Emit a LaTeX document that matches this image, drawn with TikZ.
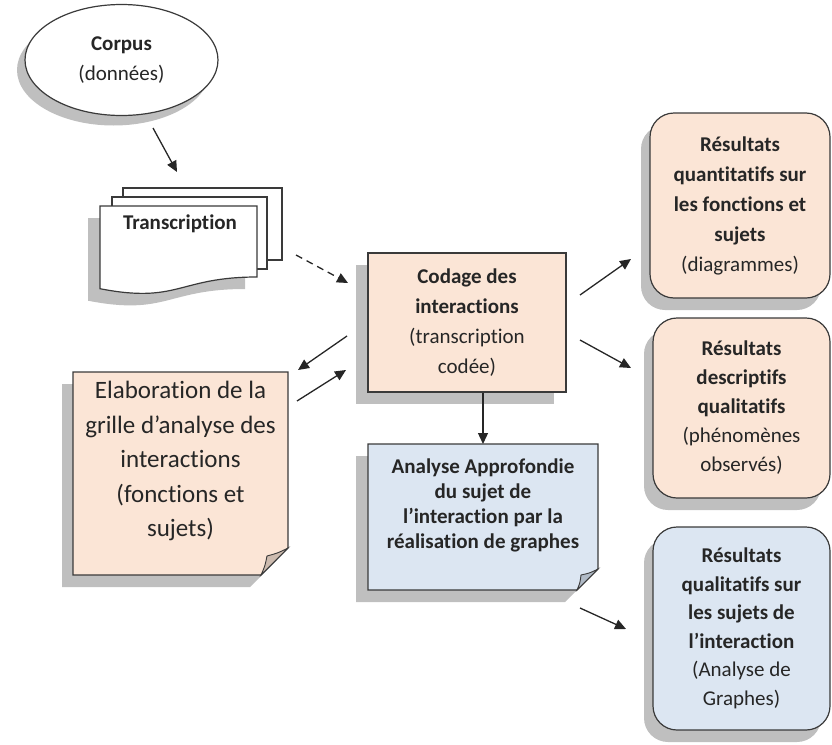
\documentclass[tikz,border=0pt]{standalone}
\usepackage{fontspec}
\setmainfont{Carlito}[Ligatures=NoCommon]
\usetikzlibrary{shapes.geometric,shadows,arrows.meta,calc}
\definecolor{peachc}{HTML}{FBE5D6}
\definecolor{bluec}{HTML}{DCE6F2}
\definecolor{shadc}{HTML}{BFBFBF}
\definecolor{linec}{HTML}{3A3A3A}
\definecolor{txtc}{HTML}{262626}
\definecolor{peachfold}{HTML}{CDBBAF}
\definecolor{bluefold}{HTML}{B0BAC6}
\begin{document}
\begin{tikzpicture}[x=1pt,y=-1pt,
  txt/.style={text=txtc, align=center, inner sep=0pt},
  f21/.style={font=\fontsize{21}{30}\selectfont},
  outline/.style={draw=linec, line width=1.2pt},
  shad/.style={drop shadow={shadow xshift=#1, shadow yshift=-12pt, fill=shadc, opacity=1}},
  shad/.default=-12pt,
  rbox/.style={txt, f21, outline, rounded corners=24pt, shad=-9pt},
  arr/.style={-{Triangle[length=11pt,width=10pt]}, line width=1.3pt, draw=black!85},
  darr/.style={arr, dash pattern=on 7pt off 5pt}]
\useasboundingbox (0,0) rectangle (832,744);

% Corpus ellipse
\node[ellipse, txt, f21, outline, fill=white, minimum width=193pt, minimum height=111pt,
      drop shadow={shadow xshift=-8pt, shadow yshift=-10pt, fill=shadc, opacity=1}]
      (corpus) at (121.5,60) {\textbf{Corpus}\\(données)};

% Transcription multidocument
\fill[shadc] (88,218) -- (245,218) -- (245,289) .. controls (166.5,289) and (166.5,316) .. (88,300.7) -- cycle;
\draw[outline, fill=white] (123,188) rectangle (282,260);
\draw[outline, fill=white] (112,197) rectangle (267,269);
\draw[outline, fill=white] (100,206) -- (257,206) -- (257,277) .. controls (178.5,277) and (178.5,304) .. (100,288.7) -- cycle;
\node[txt, f21] (transc) at (180,224) {\textbf{Transcription}};

% Codage
\node[txt, f21, outline, fill=peachc, shad, minimum width=198pt, minimum height=139pt]
      (codage) at (467,322.5) {\textbf{Codage des}\\\textbf{interactions}\\(transcription\\codée)};

% Elaboration (folded corner)
\fill[shadc] (62,384) -- (277,384) -- (277,560) -- (250,587) -- (62,587) -- cycle;
\draw[outline, fill=peachc] (73,372) -- (288,372) -- (288,548) -- (261,575) -- (73,575) -- cycle;
\draw[outline, fill=peachfold, line width=0.9pt] (288,548) .. controls (278,553) .. (267,556) .. controls (265,566) .. (261,575) -- cycle;
\node[txt, font=\fontsize{25}{34.5}\selectfont] (elab) at (180.5,461)
      {Elaboration de la\\grille d’analyse des\\interactions\\(fonctions et\\sujets)};

% Analyse (folded corner)
\fill[shadc] (356,456) -- (586,456) -- (586,581) -- (565,602) -- (356,602) -- cycle;
\draw[outline, fill=bluec] (368,444) -- (598,444) -- (598,569) -- (577,590) -- (368,590) -- cycle;
\draw[outline, fill=bluefold, line width=0.9pt] (598,569) .. controls (590,573) .. (581,575) .. controls (580,583) .. (577,590) -- cycle;
\node[txt, font=\fontsize{21}{25}\selectfont] (analyse) at (483,505)
      {\textbf{Analyse Approfondie}\\\textbf{du sujet de}\\\textbf{l’interaction par la}\\\textbf{réalisation de graphes}};
\coordinate (analyseTop) at (483,444);

% Results
\node[rbox, fill=peachc, minimum width=180pt, minimum height=185pt] (res1) at (740,205.5)
      {\textbf{Résultats}\\\textbf{quantitatifs sur}\\\textbf{les fonctions et}\\\textbf{sujets}\\(diagrammes)};
\node[rbox, fill=peachc, font=\fontsize{21}{29}\selectfont, minimum width=177pt, minimum height=180pt] (res2) at (741.5,408)
      {\textbf{Résultats}\\\textbf{descriptifs}\\\textbf{qualitatifs}\\(phénomènes\\observés)};
\node[rbox, fill=bluec, font=\fontsize{21}{28.5}\selectfont, minimum width=177pt, minimum height=203pt] (res3) at (741.5,628.5)
      {\textbf{Résultats}\\\textbf{qualitatifs sur}\\\textbf{les sujets de}\\\textbf{l’interaction}\\(Analyse de\\Graphes)};

% Arrow end points
\coordinate (a1s) at (153,128);  \coordinate (a1e) at (177,172);
\coordinate (a2s) at (296,255);  \coordinate (a2e) at (348,283);
\coordinate (a3s) at (347,336);  \coordinate (a3e) at (298,370);
\coordinate (a4s) at (297,401);  \coordinate (a4e) at (346,370);
\coordinate (a5s) at (580,295);  \coordinate (a5e) at (631,259);
\coordinate (a6s) at (580,340);  \coordinate (a6e) at (631,368);
\coordinate (a7s) at (580,608);  \coordinate (a7e) at (626,629);

\draw[arr] (a1s) -- (a1e);
\draw[darr] (a2s) -- (a2e);
\draw[arr] (a3s) -- (a3e);
\draw[arr] (a4s) -- (a4e);
\draw[arr] (a5s) -- (a5e);
\draw[arr] (a6s) -- (a6e);
\draw[arr] (codage.south -| analyseTop) -- (analyseTop);
\draw[arr] (a7s) -- (a7e);
\end{tikzpicture}
\end{document}
